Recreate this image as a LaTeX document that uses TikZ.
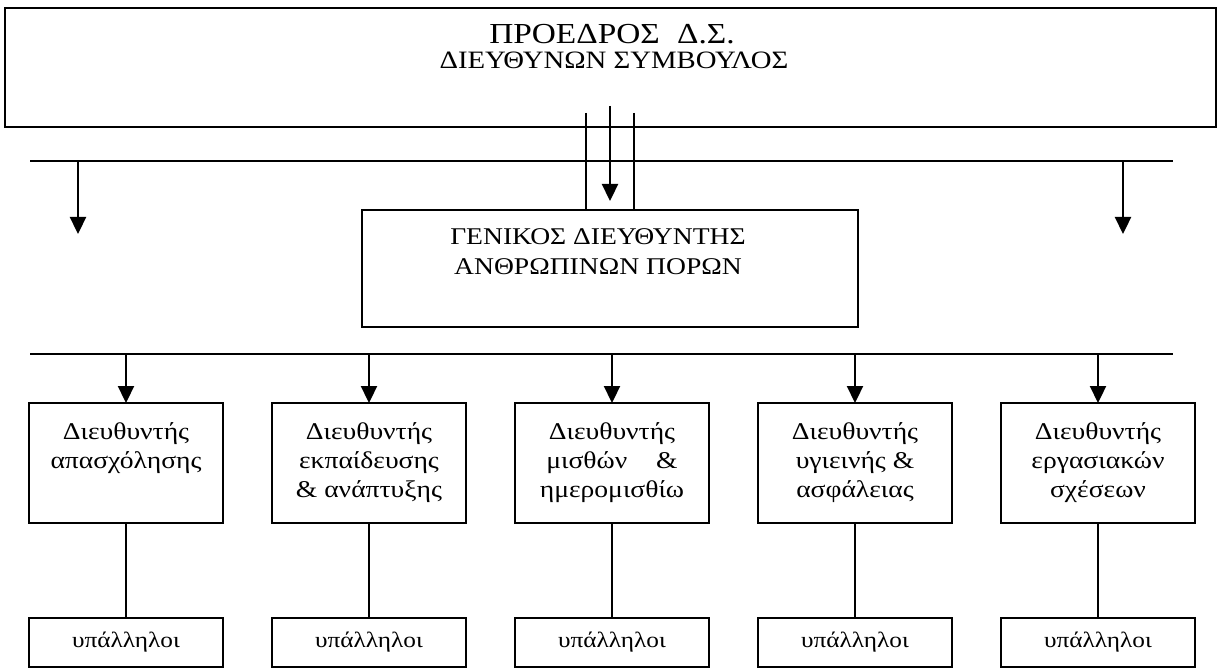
\documentclass[tikz,border=0pt]{standalone}
\usepackage{fontspec}
\setmainfont{Liberation Serif}[FakeStretch=1.15]
\usetikzlibrary{arrows.meta}
\begin{document}
\begin{tikzpicture}[x=1pt,y=-1pt,
  every node/.style={inner sep=0pt, outer sep=0pt},
  box/.style={draw, line width=2.3pt},
  wire/.style={line width=2.3pt},
  arr/.style={wire, -{Triangle[width=16pt,length=17pt]}},
  dbox/.style={box, minimum width=194pt, minimum height=120pt},
  ebox/.style={box, minimum width=194pt, minimum height=49pt, font=\fontsize{22}{26}\selectfont},
  dtext/.style={anchor=north, align=center, font=\fontsize{24}{29}\selectfont}
]
\useasboundingbox (0,0) rectangle (1221,668);

% top box
\node[box, minimum width=1211pt, minimum height=119pt] (top) at (610.5,67.5) {};
\node[anchor=base, font=\fontsize{29}{32}\selectfont] (t1) at (612,44) {ΠΡΟΕΔΡΟΣ\hspace{0.6em}Δ.Σ.};
\node[anchor=base, font=\fontsize{25}{28}\selectfont] (t2) at (614,69) {ΔΙΕΥΘΥΝΩΝ ΣΥΜΒΟΥΛΟΣ};

% general director
\node[box, minimum width=496pt, minimum height=117pt] (gd) at (610,268.5) {};
\node[anchor=base, font=\fontsize{24}{30}\selectfont] (g1) at (598,245) {ΓΕΝΙΚΟΣ ΔΙΕΥΘΥΝΤΗΣ};
\node[anchor=base, font=\fontsize{24}{30}\selectfont] (g2) at (598,275) {ΑΝΘΡΩΠΙΝΩΝ ΠΟΡΩΝ};

% buses
\coordinate (b1L) at (30,161);
\coordinate (b1R) at (1173,161);
\coordinate (b2L) at (30,354);
\coordinate (b2R) at (1173,354);
\draw[wire] (b1L) -- (b1R);
\draw[wire] (b2L) -- (b2R);

% top -> gd connectors
\coordinate (m0) at (610,106);
\coordinate (l0) at (586,113);
\coordinate (r0) at (634,113);
\draw[arr] (m0) -- ([yshift=9pt]gd.north);
\draw[wire] (l0) -- (gd.north -| l0);
\draw[wire] (r0) -- (gd.north -| r0);

% side arrows
\coordinate (sL) at (78,161);
\coordinate (sLe) at (78,234);
\coordinate (sR) at (1123,161);
\coordinate (sRe) at (1123,234);
\draw[arr] (sL) -- (sLe);
\draw[arr] (sR) -- (sRe);

% directors
\foreach \i/\x in {1/126,2/369,3/612,4/855,5/1098}{
  \node[dbox] (d\i) at (\x,463) {};
  \node[ebox] (e\i) at (\x,642.5) {υπάλληλοι};
  \draw[arr] (d\i.north |- b2L) -- (d\i.north);
  \draw[wire] (d\i.south) -- (e\i.north);
}
\node[dtext] (dt1) at (126,423) {Διευθυντής\\απασχόλησης};
\node[dtext] (dt2) at (369,423) {Διευθυντής\\εκπαίδευσης\\\& ανάπτυξης};
\node[dtext] (dt3) at (612,423) {Διευθυντής\\μισθών\hspace{1.2em}\&\\ημερομισθίω};
\node[dtext] (dt4) at (855,423) {Διευθυντής\\υγιεινής \&\\ασφάλειας};
\node[dtext] (dt5) at (1098,423) {Διευθυντής\\εργασιακών\\σχέσεων};
\end{tikzpicture}
\end{document}
